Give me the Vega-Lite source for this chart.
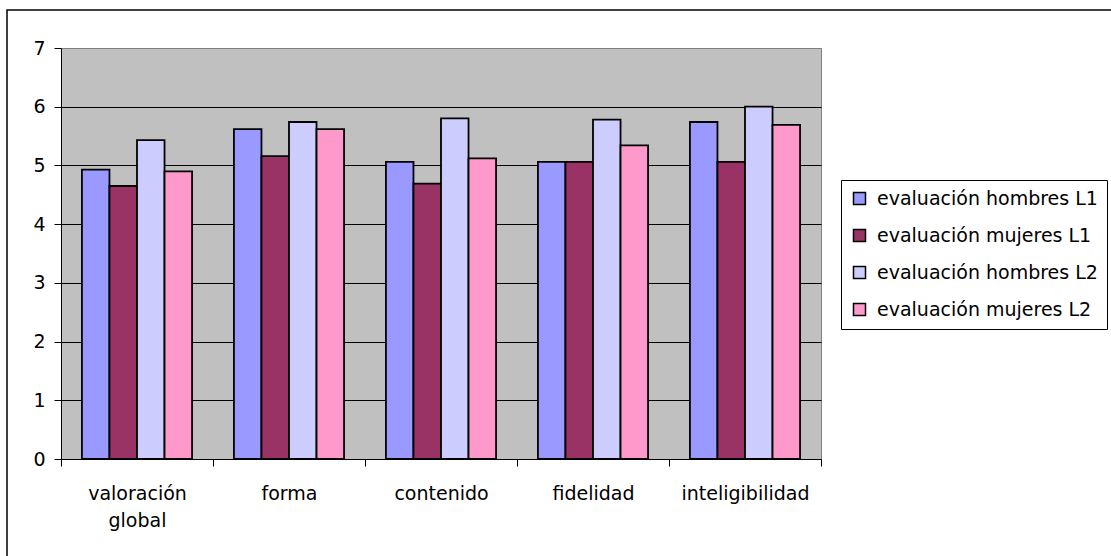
{
  "$schema": "https://vega.github.io/schema/vega-lite/v6.json",
  "width": 760,
  "height": 411,
  "autosize": "none",
  "padding": {"left": 61, "top": 48, "right": 290, "bottom": 97},
  "background": "white",
  "config": {
    "font": "DejaVu Sans",
    "view": {"fill": "#C0C0C0", "stroke": "#808080", "strokeWidth": 1}
  },
  "data": {
    "values": [
      {"aspecto": "valoración global", "serie": "evaluación hombres L1", "valor": 4.93},
      {"aspecto": "valoración global", "serie": "evaluación mujeres L1", "valor": 4.65},
      {"aspecto": "valoración global", "serie": "evaluación hombres L2", "valor": 5.43},
      {"aspecto": "valoración global", "serie": "evaluación mujeres L2", "valor": 4.90},
      {"aspecto": "forma", "serie": "evaluación hombres L1", "valor": 5.62},
      {"aspecto": "forma", "serie": "evaluación mujeres L1", "valor": 5.16},
      {"aspecto": "forma", "serie": "evaluación hombres L2", "valor": 5.74},
      {"aspecto": "forma", "serie": "evaluación mujeres L2", "valor": 5.62},
      {"aspecto": "contenido", "serie": "evaluación hombres L1", "valor": 5.06},
      {"aspecto": "contenido", "serie": "evaluación mujeres L1", "valor": 4.69},
      {"aspecto": "contenido", "serie": "evaluación hombres L2", "valor": 5.80},
      {"aspecto": "contenido", "serie": "evaluación mujeres L2", "valor": 5.12},
      {"aspecto": "fidelidad", "serie": "evaluación hombres L1", "valor": 5.06},
      {"aspecto": "fidelidad", "serie": "evaluación mujeres L1", "valor": 5.06},
      {"aspecto": "fidelidad", "serie": "evaluación hombres L2", "valor": 5.78},
      {"aspecto": "fidelidad", "serie": "evaluación mujeres L2", "valor": 5.34},
      {"aspecto": "inteligibilidad", "serie": "evaluación hombres L1", "valor": 5.74},
      {"aspecto": "inteligibilidad", "serie": "evaluación mujeres L1", "valor": 5.06},
      {"aspecto": "inteligibilidad", "serie": "evaluación hombres L2", "valor": 6.00},
      {"aspecto": "inteligibilidad", "serie": "evaluación mujeres L2", "valor": 5.69}
    ]
  },
  "layer": [
    {
      "data": {"values": [{}]},
      "mark": {"type": "rect", "fillOpacity": 0, "stroke": "black", "strokeWidth": 1.5},
      "encoding": {
        "x": {"value": -54},
        "y": {"value": -38},
        "x2": {"value": 1100},
        "y2": {"value": 600}
      }
    },
    {
      "mark": {"type": "bar", "stroke": "black", "strokeWidth": 1.8},
      "encoding": {
        "x": {
          "field": "aspecto",
          "type": "nominal",
          "sort": ["valoración global", "forma", "contenido", "fidelidad", "inteligibilidad"],
          "scale": {"paddingInner": 0, "paddingOuter": 0},
          "axis": {
            "title": null,
            "labelAngle": 0,
            "tickBand": "extent",
            "tickSize": 7,
            "tickColor": "black",
            "domainColor": "black",
            "grid": false,
            "labelFontSize": 19,
            "labelColor": "black",
            "labelPadding": 18,
            "labelLineHeight": 27,
            "labelExpr": "datum.value == 'valoración global' ? ['valoración', 'global'] : datum.value"
          }
        },
        "xOffset": {
          "field": "serie",
          "sort": ["evaluación hombres L1", "evaluación mujeres L1", "evaluación hombres L2", "evaluación mujeres L2"],
          "scale": {"paddingInner": 0, "paddingOuter": 0.76}
        },
        "y": {
          "field": "valor",
          "type": "quantitative",
          "scale": {"domain": [0, 7], "nice": false},
          "axis": {
            "title": null,
            "values": [0, 1, 2, 3, 4, 5, 6, 7],
            "grid": true,
            "gridColor": {"condition": {"test": "datum.value == 7", "value": "#808080"}, "value": "black"},
            "gridWidth": 1,
            "domainColor": "black",
            "tickColor": "black",
            "tickSize": 7,
            "labelPadding": 9,
            "labelFontSize": 19,
            "labelColor": "black"
          }
        },
        "fill": {
          "field": "serie",
          "type": "nominal",
          "scale": {
            "domain": ["evaluación hombres L1", "evaluación mujeres L1", "evaluación hombres L2", "evaluación mujeres L2"],
            "range": ["#9999FF", "#993366", "#CCCCFF", "#FF99CC"]
          },
          "legend": {
            "orient": "none",
            "legendX": 780,
            "legendY": 132,
            "title": null,
            "symbolType": "square",
            "symbolSize": 144,
            "symbolStrokeColor": "black",
            "symbolStrokeWidth": 1.5,
            "symbolOpacity": 1,
            "labelFontSize": 19,
            "labelColor": "black",
            "labelOffset": 8,
            "labelLimit": 400,
            "rowPadding": 17,
            "padding": 9,
            "strokeColor": "black",
            "fillColor": "white"
          }
        }
      }
    }
  ]
}
